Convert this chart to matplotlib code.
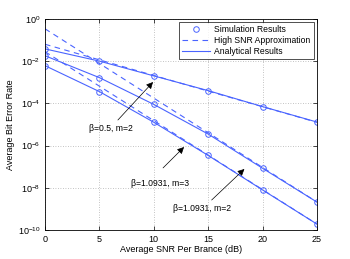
#!/usr/bin/env python

import matplotlib.pyplot as plt
import numpy as np

# SNR points (dB)
snr = [0, 5, 10, 15, 20, 25]

# simulation / analytical BER
ber_b05_m2 = [3.8e-2, 1.0e-2, 2.0e-3, 4.0e-4, 7.0e-5, 1.3e-5]
ber_b109_m3 = [1.8e-2, 1.65e-3, 8.9e-5, 3.5e-6, 8.4e-8, 2.1e-9]
ber_b109_m2 = [6.1e-3, 3.6e-4, 1.27e-5, 3.4e-7, 7.9e-9, 1.9e-10]

# high SNR approximations (straight lines on log scale), endpoints at 0 and 25 dB
snr_hs = [0, 25]
hs_b05_m2 = [6.3e-2, 1.26e-5]
hs_b109_m3 = [3.4e-1, 2.1e-9]
hs_b109_m2 = [2.8e-2, 1.9e-10]

xticks = [0, 5, 10, 15, 20, 25]
yticks = [1e0, 1e-2, 1e-4, 1e-6, 1e-8, 1e-10]


def main():
    plt.rcParams.update(
        {
            "font.family": ["Liberation Sans", "DejaVu Sans"],
            "mathtext.fontset": "custom",
            "mathtext.rm": "Liberation Sans",
            "mathtext.it": "Liberation Sans:italic",
            "font.size": 6.5,
        }
    )

    fig = plt.figure(figsize=(3.5, 2.59), dpi=100)
    ax = fig.add_axes((0.1286, 0.112, 0.777, 0.815))

    blue = "#4a64ff"
    lw = 0.8

    for b, hs in [
        (ber_b05_m2, hs_b05_m2),
        (ber_b109_m3, hs_b109_m3),
        (ber_b109_m2, hs_b109_m2),
    ]:
        ax.plot(snr, b, color=blue, linewidth=lw)
        ax.plot(snr_hs, hs, color=blue, linewidth=lw, linestyle=(0, (5, 4)))
        ax.plot(snr, b, linestyle="none", marker="o", markersize=4,
                markerfacecolor="none", markeredgecolor=blue, markeredgewidth=0.7)

    ax.set_yscale("log")
    ax.set_xlim(0, 25)
    ax.set_ylim(1e-10, 1e0)
    ax.set_xticks(xticks)
    ax.set_yticks(yticks)
    ax.yaxis.set_minor_locator(plt.NullLocator())
    ax.grid(True, which="major", color="#b0b0b0", linestyle=(0, (1, 2)), linewidth=0.6)
    ax.tick_params(direction="in", length=3, width=0.5, top=True, right=True)
    for s in ax.spines.values():
        s.set_linewidth(0.6)

    ax.set_xlabel("Average SNR Per Brance (dB)", labelpad=1)
    ax.set_ylabel("Average Bit Error Rate", labelpad=2)

    # legend dummies
    ax.plot([], [], linestyle="none", marker="o", markersize=4,
            markerfacecolor="none", markeredgecolor=blue, markeredgewidth=0.7,
            label="Simulation Results")
    ax.plot([], [], color=blue, linewidth=lw, linestyle=(0, (5, 4)),
            label="High SNR Approximation")
    ax.plot([], [], color=blue, linewidth=lw, label="Analytical Results")
    leg = ax.legend(loc="upper right", fontsize=6.2, frameon=True, fancybox=False,
                    borderpad=0.35, labelspacing=0.2, handlelength=3.2,
                    handletextpad=0.5, borderaxespad=0.4)
    leg.get_frame().set_edgecolor("black")
    leg.get_frame().set_linewidth(0.6)

    arrow = dict(arrowstyle="-|>", color="black", linewidth=0.5,
                 mutation_scale=10, shrinkA=0, shrinkB=0)
    ax.annotate("", xy=(9.93, 10**-2.99), xytext=(6.7, 10**-4.79), arrowprops=arrow)
    ax.text(6.07, 10**-5.17, "β=0.5, m=2", ha="center", va="center", fontsize=6.2)
    ax.annotate("", xy=(12.78, 10**-6.07), xytext=(10.85, 10**-7.06), arrowprops=arrow)
    ax.text(10.57, 10**-7.82, "β=1.0931, m=3", ha="center", va="center", fontsize=6.2)
    ax.annotate("", xy=(18.33, 10**-7.11), xytext=(15.32, 10**-8.58), arrowprops=arrow)
    ax.text(14.4, 10**-9.0, "β=1.0931, m=2", ha="center", va="center", fontsize=6.2)

    plt.savefig("out.png", dpi=100)


if __name__ == "__main__":
    main()
